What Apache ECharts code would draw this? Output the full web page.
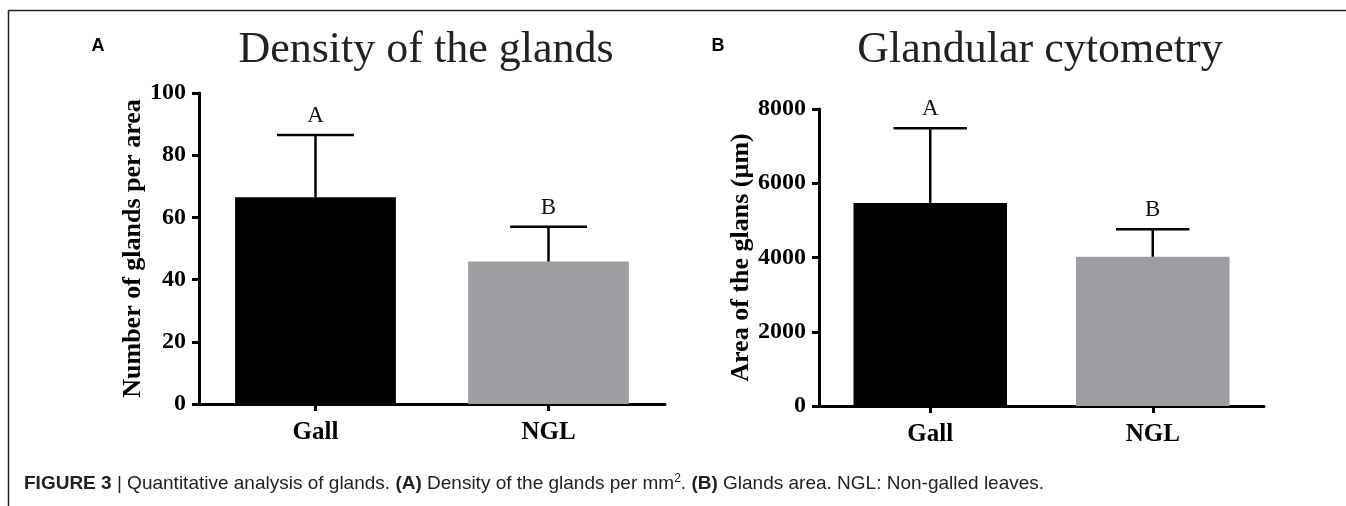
<!DOCTYPE html>
<html>
<head>
<meta charset="utf-8">
<script src="https://cdn.jsdelivr.net/npm/echarts@6/dist/echarts.min.js"></script>
<style>
html,body{margin:0;padding:0;background:#fff;}
#chart{width:1346px;height:506px;}
</style>
</head>
<body>
<div id="chart"></div>
<script>
// ---- data ----
const categories = ['Gall', 'NGL'];
const densityMean = [66.5, 45.8];
const densitySD = [20.0, 11.2];
const densityLetters = ['A', 'B'];
const areaMean = [5470, 4020];
const areaSD = [2010, 740];
const areaLetters = ['A', 'B'];
const densityTicks = { min: 0, max: 100, interval: 20 };
const areaTicks = { min: 0, max: 8000, interval: 2000 };
const barColors = ['#000000', '#9e9da2'];

const serif = '"Liberation Serif", "Times New Roman", serif';
const sans = '"Liberation Sans", Arial, sans-serif';
const chart = echarts.init(document.getElementById('chart'));

function barData(means) {
  return means.map((v, i) => ({ value: v, itemStyle: { color: barColors[i] } }));
}
function errData(means, sds, letters) {
  return means.map((v, i) => [i, v, v + sds[i], letters[i]]);
}
function errRender(params, api) {
  const x = api.value(0);
  const mean = api.coord([x, api.value(1)]);
  const top = api.coord([x, api.value(2)]);
  const band = api.size([1, 0])[0];
  const half = band * 0.165;
  const st = { stroke: '#000', lineWidth: 2.5 };
  return {
    type: 'group',
    children: [
      { type: 'line', shape: { x1: top[0], y1: mean[1], x2: top[0], y2: top[1] }, style: st },
      { type: 'line', shape: { x1: top[0] - half, y1: top[1], x2: top[0] + half, y2: top[1] }, style: st },
      { type: 'text', x: top[0], y: top[1] - 19, style: { text: api.value(3), textAlign: 'center', textVerticalAlign: 'middle', font: '23px ' + serif, fill: '#111' } }
    ]
  };
}

const axisLine = { show: true, lineStyle: { color: '#000', width: 3 } };
const axisTick = { show: true, length: 7, lineStyle: { color: '#000', width: 3 } };
const axisLabelY = { color: '#000', fontFamily: serif, fontWeight: 'bold', fontSize: 24, margin: 13, formatter: v => String(v) };
const axisLabelX = { color: '#000', fontFamily: serif, fontWeight: 'bold', fontSize: 25, margin: 16 };
const nameStyle = { color: '#000', fontFamily: serif, fontWeight: 'bold', fontSize: 26 };

chart.setOption({
  animation: false,
  grid: [
    { left: 199, right: 681, top: 93, bottom: 102 },
    { left: 819, right: 82, top: 109, bottom: 100 }
  ],
  xAxis: [
    { type: 'category', gridIndex: 0, data: categories, axisLine, axisTick: Object.assign({ alignWithLabel: true }, axisTick), axisLabel: axisLabelX },
    { type: 'category', gridIndex: 1, data: categories, axisLine, axisTick: Object.assign({ alignWithLabel: true }, axisTick), axisLabel: axisLabelX }
  ],
  yAxis: [
    { type: 'value', gridIndex: 0, min: densityTicks.min, max: densityTicks.max, interval: densityTicks.interval,
      axisLine, axisTick, axisLabel: axisLabelY, splitLine: { show: false },
      name: 'Number of glands per area', nameLocation: 'middle', nameGap: 52, nameTextStyle: nameStyle },
    { type: 'value', gridIndex: 1, min: areaTicks.min, max: areaTicks.max, interval: areaTicks.interval,
      axisLine, axisTick, axisLabel: axisLabelY, splitLine: { show: false },
      name: 'Area of the glans (µm)', nameLocation: 'middle', nameGap: 58, nameTextStyle: nameStyle }
  ],
  series: [
    { type: 'bar', xAxisIndex: 0, yAxisIndex: 0, data: barData(densityMean), barWidth: '69%' },
    { type: 'custom', xAxisIndex: 0, yAxisIndex: 0, data: errData(densityMean, densitySD, densityLetters), renderItem: errRender, z: 5 },
    { type: 'bar', xAxisIndex: 1, yAxisIndex: 1, data: barData(areaMean), barWidth: '69%' },
    { type: 'custom', xAxisIndex: 1, yAxisIndex: 1, data: errData(areaMean, areaSD, areaLetters), renderItem: errRender, z: 5 }
  ],
  graphic: [
    { type: 'line', shape: { x1: 8, y1: 10.5, x2: 1346, y2: 10.5 }, style: { stroke: '#222', lineWidth: 1.5 } },
    { type: 'line', shape: { x1: 8.5, y1: 10, x2: 8.5, y2: 506 }, style: { stroke: '#222', lineWidth: 1.5 } },
    { type: 'text', x: 98, y: 46, style: { text: 'A', font: 'bold 18px ' + sans, fill: '#000', textAlign: 'center', textVerticalAlign: 'middle' } },
    { type: 'text', x: 718, y: 46, style: { text: 'B', font: 'bold 18px ' + sans, fill: '#000', textAlign: 'center', textVerticalAlign: 'middle' } },
    { type: 'text', x: 426, y: 50, style: { text: 'Density of the glands', font: '44px ' + serif, fill: '#222', textAlign: 'center', textVerticalAlign: 'middle' } },
    { type: 'text', x: 1040, y: 50, style: { text: 'Glandular cytometry', font: '44px ' + serif, fill: '#222', textAlign: 'center', textVerticalAlign: 'middle' } },
    { type: 'text', x: 24, y: 484, style: {
        text: '{b|FIGURE 3} | Quantitative analysis of glands. {b|(A)} Density of the glands per mm{sup|2}. {b|(B)} Glands area. NGL: Non-galled leaves.',
        font: '19px ' + sans, fill: '#222', textVerticalAlign: 'middle',
        rich: {
          b: { fontWeight: 'bold', fontSize: 19, fontFamily: sans, fill: '#222' },
          sup: { fontSize: 12, verticalAlign: 'top', padding: [0, 0, 10, 0], fontFamily: sans, fill: '#222' }
        } } }
  ]
});
</script>
</body>
</html>
